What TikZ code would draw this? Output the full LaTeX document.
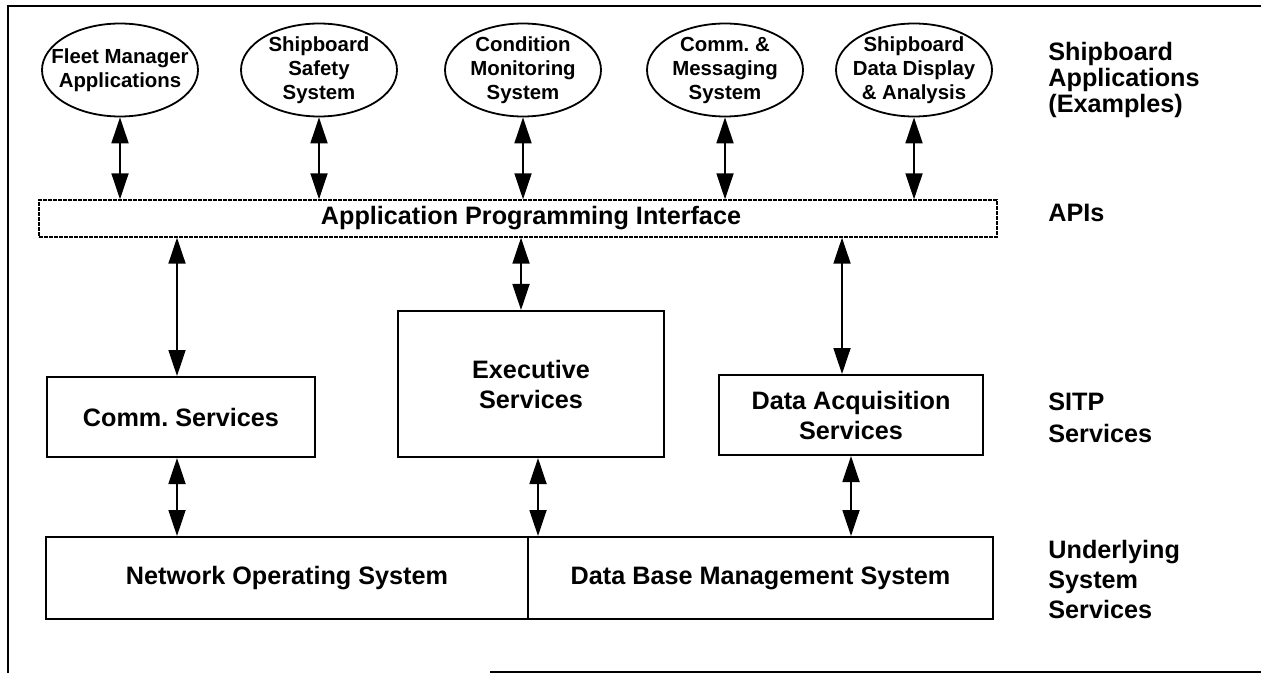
\documentclass[tikz,border=0pt]{standalone}
\usepackage{fontspec}
\setmainfont{Liberation Sans}
\frenchspacing
\usetikzlibrary{shapes.geometric, arrows.meta, positioning}
\tikzstyle{every node}=[font=\bfseries\fontsize{12.6pt}{15pt}\selectfont]
\tikzstyle{block}=[draw,rectangle,line width=1pt,align=center,inner sep=0pt]
\tikzstyle{app}=[draw,ellipse,line width=0.9pt,minimum width=78pt,minimum height=46.5pt,inner sep=0pt]
\tikzstyle{apptext}=[font=\bfseries\fontsize{10.2pt}{12pt}\selectfont,align=center,inner sep=0pt]
\tikzstyle{layer}=[anchor=west,align=left,inner sep=0pt]
\tikzstyle{link}=[<->,line width=0.9pt]
\tikzset{apptxt/.style={label={[apptext]center:{#1}}}}

\begin{document}
\begin{tikzpicture}[x=0.5pt,y=-0.5pt,>={Triangle[length=13pt,width=8.5pt]}]
    \useasboundingbox (0,0) rectangle (1261,673);
    % frame
    \draw[line width=1.2pt] (1261,6) -- (8,6) -- (8,673);
    \draw[line width=1pt] (490,672) -- (1261,672);

    % applications
    \node[app, apptxt={Fleet Manager\\Applications}] (fleet) at (120,70) {};
    \node[app, right of=fleet, node distance=99.5pt, apptxt={Shipboard\\Safety\\System}] (safety) {};
    \node[app, right of=safety, node distance=102pt, apptxt={Condition\\Monitoring\\System}] (cond) {};
    \node[app, right of=cond, node distance=101pt, apptxt={Comm. \&\\Messaging\\System}] (comms) {};
    \node[app, right of=comms, node distance=94.5pt, apptxt={Shipboard\\Data Display\\\& Analysis}] (disp) {};

    \node[block, line width=0.7pt, dash pattern=on 2pt off 0.5pt, minimum width=479pt, minimum height=18.5pt] (api) at (518,218.5) {\hspace*{13pt}Application Programming Interface};

    % services
    \node[block, minimum width=134pt, minimum height=40pt] (comm) at (181,417) {Comm. Services};
    \node[block, minimum width=133pt, minimum height=73pt] (exec) at (531,384) {Executive\\Services};
    \node[block, minimum width=132pt, minimum height=40pt] (daq) at (851,415) {Data Acquisition\\Services};

    \node[block, minimum width=241pt, minimum height=41pt] (nos) at (287,578) {Network Operating System};
    \node[block, right=-1pt of nos, minimum width=232.5pt, minimum height=41pt] (dbms) {Data Base Management System};

    % layer names
    \node[layer, font=\bfseries\fontsize{12.6pt}{13pt}\selectfont] (lapps) at (1048,80) {Shipboard\\Applications\\(Examples)};
    \node[layer] (lapi) at (1048,213) {APIs};
    \node[layer, font=\bfseries\fontsize{12.6pt}{16pt}\selectfont] (lsitp) at (1048,418) {SITP\\Services};
    \node[layer] (lsys) at (1048,579) {Underlying\\System\\Services};

    \foreach \a in {fleet,safety,cond,comms,disp}
        \draw[link] (\a.south) -- (\a.south |- api.north);
    \draw[link] ([xshift=-2pt]comm.north |- api.south) -- ([xshift=-2pt]comm.north);
    \draw[link] ([xshift=-5pt]exec.north |- api.south) -- ([xshift=-5pt]exec.north);
    \draw[link] ([xshift=-4.5pt]daq.north |- api.south) -- ([xshift=-4.5pt]daq.north);
    \draw[link] ([xshift=-2pt]comm.south) -- ([xshift=-2pt]comm.south |- nos.north);
    \draw[link] ([xshift=3.5pt]exec.south) -- ([xshift=3.5pt]exec.south |- dbms.north);
    \draw[link] (daq.south) -- (daq.south |- dbms.north);
\end{tikzpicture}
\end{document}
